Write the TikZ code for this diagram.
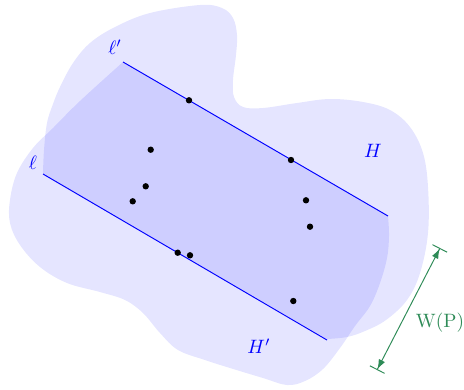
\documentclass[tikz,border=0pt]{standalone}
\usetikzlibrary{arrows.meta}
\definecolor{wgreen}{RGB}{46,139,87}
\begin{document}
\begin{tikzpicture}[x=0.5172pt,y=-0.5172pt,
  region/.style={fill=blue,fill opacity=0.1,draw=none},
  edge/.style={blue,line width=0.5pt},
  dot/.style={circle,fill=black,inner sep=0pt,minimum size=3.3pt},
  lab/.style={text=blue,inner sep=0pt},
  meas/.style={wgreen,line width=0.5pt,{Bar[width=8.5pt]Latex[length=5pt,width=3.6pt]}-{Latex[length=5pt,width=3.6pt]Bar[width=8.5pt]}}]
\useasboundingbox (0,0) rectangle (464,389);
% upper blob (bounded below by l)
\fill[region] plot[smooth,tension=0.6] coordinates {(43,174) (44,150) (47,123) (53,104) (60,87) (73,63) (90,43) (115,27) (150,13) (200,5) (222,8) (233,18) (237,35) (236,55) (233,80) (234,97) (243,107) (263,108) (297,103) (330,99) (363,102) (390,110) (410,127) (423,153) (428,187) (428,233) (420,273) (407,300) (386,320) (365,331) (347,337) (327,339)} -- cycle;
% lower blob (bounded above by l')
\fill[region] plot[smooth,tension=0.6] coordinates {(388,216) (389,236) (387,258) (380,283) (370,306) (355,326) (340,348) (323,369) (305,381) (287,385) (263,378) (230,368) (205,360) (178,350) (160,333) (143,313) (125,300) (100,292) (67,283) (40,267) (20,245) (10,223) (10,200) (17,173) (33,148) (53,128) (80,101) (123,62)} -- cycle;
% lines
\coordinate (l1) at (43,174);
\coordinate (l2) at (327,340);
\coordinate (m1) at (123,62);
\coordinate (m2) at (388,216);
\draw[edge] (l1) -- (l2);
\draw[edge] (m1) -- (m2);
% points
\foreach \x/\y [count=\i] in {189/100.3,291/160,150.7/149.7,145.7/186.3,132.7/201.3,306/200.3,310/226.7,177.7/252.7,190/255.3,293.3/301}
  \node[dot] (p\i) at (\x,\y) {};
% labels
\node[lab] (lp) at (115,47) {$\ell'$};
\node[lab] (ll) at (33,163) {$\ell$};
\node[lab] (lh) at (373,151) {$H$};
\node[lab] (lhp) at (259,346) {$H'$};
% width
\coordinate (wa) at (440,248);
\coordinate (wb) at (377,370);
\draw[meas] (wa) -- (wb);
\node[text=wgreen,inner sep=0pt] (wlab) at (440,323) {W(P)};
\end{tikzpicture}
\end{document}
